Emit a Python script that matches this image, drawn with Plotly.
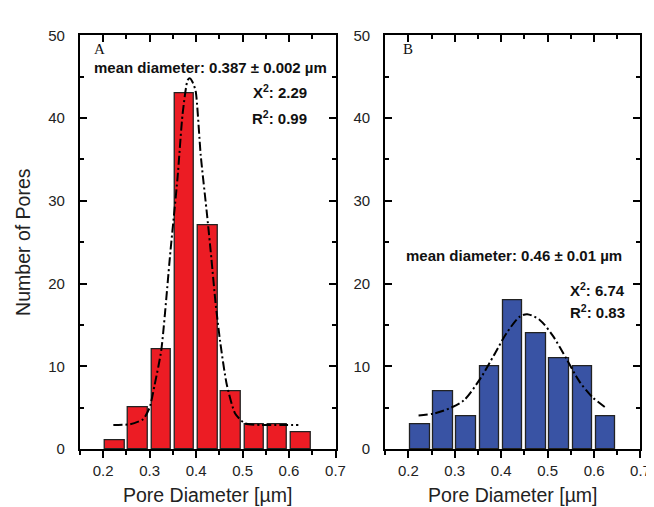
import plotly.graph_objects as go

# ---- data ----
bin_centers = [0.225, 0.275, 0.325, 0.375, 0.425, 0.475, 0.525, 0.575, 0.625]
counts_a = [1, 5, 12, 43, 27, 7, 3, 3, 2]
counts_b = [3, 7, 4, 10, 18, 14, 11, 10, 4]

fit_a_x = [0.222, 0.258, 0.286, 0.300, 0.311, 0.325, 0.345, 0.360, 0.371, 0.382, 0.387,
           0.392, 0.399, 0.410, 0.424, 0.433, 0.442, 0.452, 0.466, 0.484, 0.505, 0.540,
           0.580, 0.620]
fit_a_y = [2.9, 3.0, 3.6, 5.0, 7.8, 11.9, 24.0, 32.7, 40.5, 44.6, 44.8,
           44.4, 43.3, 35.5, 28.1, 23.0, 17.6, 12.9, 7.8, 4.3, 3.1, 2.9,
           2.9, 2.9]
fit_b_x = [0.222, 0.256, 0.292, 0.320, 0.356, 0.384, 0.412, 0.440, 0.456, 0.483, 0.511,
           0.540, 0.568, 0.596, 0.625]
fit_b_y = [4.05, 4.3, 5.0, 5.9, 8.6, 11.3, 14.05, 16.0, 16.3, 15.6, 13.7,
           10.95, 8.2, 6.3, 5.0]

x_ticks = [0.2, 0.3, 0.4, 0.5, 0.6, 0.7]
y_ticks = [0, 10, 20, 30, 40, 50]

RED = "#ec1c24"
BLUE = "#3953a4"
FONT = "Liberation Sans, Arial, sans-serif"
SERIF = "Liberation Serif, Times New Roman, serif"

fig = go.Figure()

fig.add_trace(go.Bar(x=bin_centers, y=counts_a, width=0.042, marker=dict(color=RED, line=dict(color="#222", width=1.3)),
                     xaxis="x", yaxis="y"))
fig.add_trace(go.Bar(x=bin_centers, y=counts_b, width=0.042, marker=dict(color=BLUE, line=dict(color="#222", width=1.3)),
                     xaxis="x2", yaxis="y2"))
dash = "9px,3px,2px,3px"
fig.add_trace(go.Scatter(x=fit_a_x, y=fit_a_y, mode="lines", line=dict(color="black", width=2, dash=dash, shape="spline", smoothing=0.6),
                         xaxis="x3", yaxis="y"))
fig.add_trace(go.Scatter(x=fit_b_x, y=fit_b_y, mode="lines", line=dict(color="black", width=2, dash=dash, shape="spline", smoothing=0.8),
                         xaxis="x4", yaxis="y2"))

dom_a = [73 / 654, 332.6 / 654]
dom_b = [383 / 654, 642.3 / 654]
dom_y = [1 - 447 / 507, 1 - 19 / 507]
xr = [0.15, 0.7]

def xbottom(dom, anchor):
    return dict(domain=dom, anchor=anchor, range=xr, tickvals=x_ticks, ticktext=[str(v) for v in x_ticks],
                ticks="outside", ticklen=7, tickwidth=1.5, tickcolor="black",
                minor=dict(ticks="outside", ticklen=4, tickwidth=1.5, tickcolor="black", tick0=0.15, dtick=0.1),
                showline=True, linecolor="black", linewidth=2, showgrid=False, zeroline=False,
                tickfont=dict(family=FONT, size=15, color="#222"),
                title=dict(text="Pore Diameter [µm]", font=dict(family=FONT, size=19.5, color="#222"), standoff=10))

def xtop(dom, anchor, overlay):
    return dict(domain=dom, anchor=anchor, overlaying=overlay, side="top", range=xr, tickvals=x_ticks,
                showticklabels=False, ticks="inside", ticklen=7, tickwidth=1.5, tickcolor="black",
                minor=dict(ticks="inside", ticklen=4, tickwidth=1.5, tickcolor="black", tick0=0.15, dtick=0.1),
                showline=True, linecolor="black", linewidth=2, showgrid=False, zeroline=False)

def yax(anchor, title=None):
    d = dict(domain=dom_y, anchor=anchor, range=[0, 50], tickvals=y_ticks,
             ticks="inside", ticklen=7, tickwidth=1.5, tickcolor="black",
             minor=dict(ticks="inside", ticklen=4, tickwidth=1.5, tickcolor="black", tick0=5, dtick=10),
             showline=True, linecolor="black", linewidth=2, mirror="ticks", showgrid=False, zeroline=False,
             tickfont=dict(family=FONT, size=15, color="#222"), ticklabelstandoff=10)
    if title:
        d["title"] = dict(text=title, font=dict(family=FONT, size=19.5, color="#222"), standoff=12)
    return d

fig.update_layout(
    width=654, height=507,
    margin=dict(l=0, r=0, t=0, b=0),
    paper_bgcolor="white", plot_bgcolor="white",
    showlegend=False, bargap=0,
    xaxis=xbottom(dom_a, "y"),
    xaxis2=xbottom(dom_b, "y2"),
    xaxis3=xtop(dom_a, "y", "x"),
    xaxis4=xtop(dom_b, "y2", "x2"),
    yaxis=yax("x", "Number of Pores"),
    yaxis2=yax("x2"),
)

def ann(text, x, y, xref, yref, font, size, weight="normal"):
    return dict(text=text, x=x, y=y, xref=xref, yref=yref, showarrow=False, xanchor="center", yanchor="middle",
                font=dict(family=font, size=size, color="#111", weight=weight))

anns = [
    ann("A", 0.1915, 48.4, "x", "y", SERIF, 15),
    ann("mean diameter: 0.387 ± 0.002 µm", 0.431, 46.1, "x", "y", FONT, 15, "bold"),
    ann("Χ<sup>2</sup>: 2.29", 0.581, 43.2, "x", "y", FONT, 15, "bold"),
    ann("R<sup>2</sup>: 0.99", 0.579, 40.1, "x", "y", FONT, 15, "bold"),
    ann("B", 0.1985, 48.4, "x2", "y2", SERIF, 15),
    ann("mean diameter: 0.46 ± 0.01 µm", 0.428, 23.4, "x2", "y2", FONT, 15, "bold"),
    ann("Χ<sup>2</sup>: 6.74", 0.608, 19.3, "x2", "y2", FONT, 15, "bold"),
    ann("R<sup>2</sup>: 0.83", 0.608, 16.6, "x2", "y2", FONT, 15, "bold"),
]
fig.update_layout(annotations=anns)

fig.write_html("out.html")
